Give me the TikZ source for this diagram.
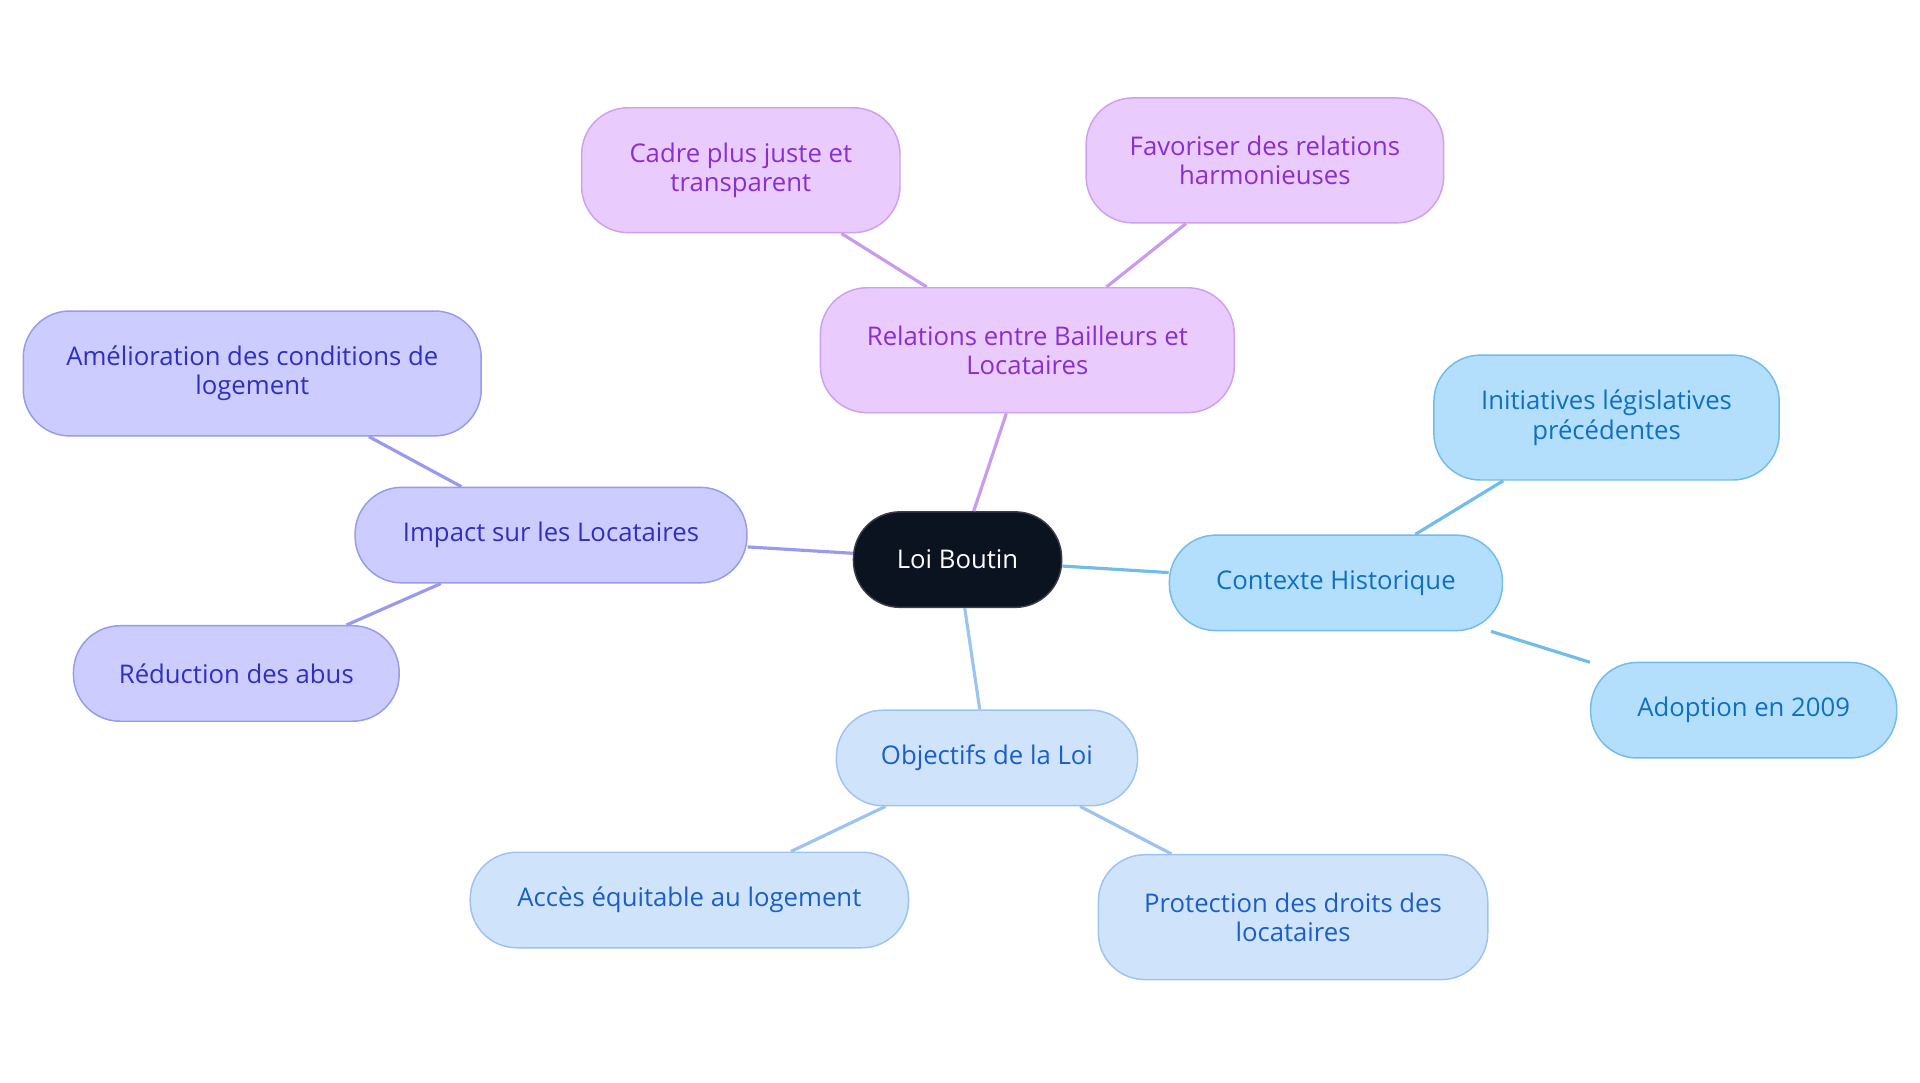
\documentclass[tikz,border=0pt]{standalone}
\usepackage{fontspec}
\setmainfont{Open Sans}
\begin{document}
\begin{tikzpicture}[x=0.5pt,y=-0.5pt,
 base/.style={rounded corners=19pt,line width=0.6pt,align=center,font=\fontsize{10.5}{12}\selectfont,inner sep=0pt},
 pur/.style={base,fill={rgb,255:red,233;green,204;blue,253},draw={rgb,255:red,205;green,160;blue,240},text={rgb,255:red,138;green,46;blue,208}},
 ind/.style={base,fill={rgb,255:red,204;green,204;blue,255},draw={rgb,255:red,153;green,153;blue,238},text={rgb,255:red,48;green,48;blue,192}},
 sky/.style={base,fill={rgb,255:red,179;green,223;blue,253},draw={rgb,255:red,112;green,188;blue,235},text={rgb,255:red,16;green,112;blue,192}},
 lbl/.style={base,fill={rgb,255:red,207;green,227;blue,251},draw={rgb,255:red,157;green,195;blue,240},text={rgb,255:red,26;green,95;blue,200}},
 e/.style={line width=1.3pt}]
\useasboundingbox (0,0) rectangle (1568,884);
\node[base,fill={rgb,255:red,11;green,19;blue,32},draw={rgb,255:red,60;green,60;blue,70},text=white,minimum width=85pt,minimum height=39pt] (c) at (782,457) {Loi Boutin};
\node[pur,minimum width=169pt,minimum height=51pt] (r) at (839,286) {Relations entre Bailleurs et\\Locataires};
\node[pur,minimum width=130pt,minimum height=51pt] (r1) at (605,139) {Cadre plus juste et\\transparent};
\node[pur,minimum width=146pt,minimum height=51pt] (r2) at (1033,131) {Favoriser des relations\\harmonieuses};
\node[ind,minimum width=160pt,minimum height=39pt] (i) at (450,437) {Impact sur les Locataires};
\node[ind,minimum width=187pt,minimum height=51pt] (i1) at (206,305) {Amélioration des conditions de\\logement};
\node[ind,minimum width=133pt,minimum height=39pt] (i2) at (193,550) {Réduction des abus};
\node[sky,minimum width=136pt,minimum height=39pt] (h) at (1091,476) {Contexte Historique};
\node[sky,minimum width=141pt,minimum height=51pt] (h1) at (1312,341) {Initiatives législatives\\précédentes};
\node[sky,minimum width=125pt,minimum height=39pt] (h2) at (1424,580) {Adoption en 2009};
\node[lbl,minimum width=123pt,minimum height=39pt] (o) at (806,619) {Objectifs de la Loi};
\node[lbl,minimum width=179pt,minimum height=39pt] (o1) at (563,735) {Accès équitable au logement};
\node[lbl,minimum width=159pt,minimum height=51pt] (o2) at (1056,749) {Protection des droits des\\locataires};
\begin{scope}[on background layer/.style={}]
\draw[e,draw={rgb,255:red,200;green,155;blue,240}] (c) -- (r);
\draw[e,draw={rgb,255:red,200;green,155;blue,240}] (r) -- (r1);
\draw[e,draw={rgb,255:red,200;green,155;blue,240}] (r) -- (r2);
\draw[e,draw={rgb,255:red,153;green,153;blue,238}] (c) -- (i);
\draw[e,draw={rgb,255:red,153;green,153;blue,238}] (i) -- (i1);
\draw[e,draw={rgb,255:red,153;green,153;blue,238}] (i) -- (i2);
\draw[e,draw={rgb,255:red,112;green,188;blue,235}] (c) -- (h);
\draw[e,draw={rgb,255:red,112;green,188;blue,235}] (h) -- (h1);
\draw[e,draw={rgb,255:red,112;green,188;blue,235}] (h) -- (h2);
\draw[e,draw={rgb,255:red,157;green,195;blue,240}] (c) -- (o);
\draw[e,draw={rgb,255:red,157;green,195;blue,240}] (o) -- (o1);
\draw[e,draw={rgb,255:red,157;green,195;blue,240}] (o) -- (o2);
\end{scope}
\end{tikzpicture}
\end{document}
